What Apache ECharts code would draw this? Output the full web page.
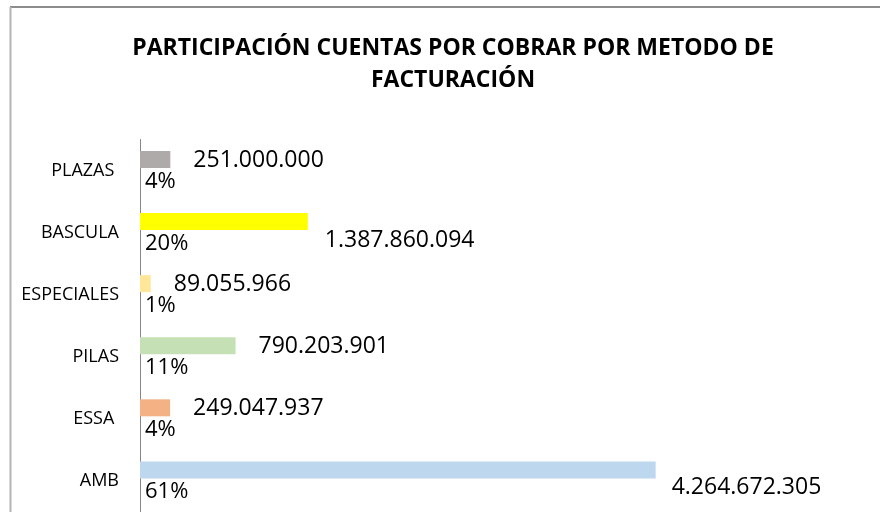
<!DOCTYPE html>
<html>
<head>
<meta charset="utf-8">
<script src="https://cdn.jsdelivr.net/npm/echarts@6/dist/echarts.min.js"></script>
<style>
  html,body{margin:0;padding:0;background:#fff;}
  #main{width:880px;height:512px;}
</style>
</head>
<body>
<div id="main"></div>
<script>
// datos (de abajo hacia arriba)
var categorias = ['AMB', 'ESSA ', 'PILAS', 'ESPECIALES', 'BASCULA', 'PLAZAS '];
var valores = [4264672305, 249047937, 790203901, 89055966, 1387860094, 251000000];
var porcentajes = [61, 4, 11, 1, 20, 4];

var colores = ['#BDD7EE', '#F4B183', '#C5E0B4', '#FFE699', '#FFFF00', '#AEAAAA'];
// etiquetas movidas a mano en el original
var desplazamiento = {'BASCULA': [-6, 19], 'AMB': [-7, 18]};

function puntos(n){
  return String(n).replace(/\B(?=(\d{3})+(?!\d))/g, '.');
}

var myChart = echarts.init(document.getElementById('main'));

var dataValores = valores.map(function(v, i){
  var item = {value: v, itemStyle: {color: colores[i]}};
  var off = desplazamiento[categorias[i].trim()];
  if (off) item.label = {offset: off};
  return item;
});

var option = {
  animation: false,
  backgroundColor: '#fff',
  textStyle: {fontFamily: 'Open Sans'},
  title: {
    text: 'PARTICIPACIÓN CUENTAS POR COBRAR POR METODO DE\nFACTURACIÓN',
    left: 448,
    top: 27,
    textAlign: 'center',
    textStyle: {fontFamily: 'Open Sans', fontWeight: 'bold', fontSize: 23, color: '#000', lineHeight: 32}
  },
  graphic: [
    {type: 'line', shape: {x1: 10, y1: 7, x2: 880, y2: 7}, style: {stroke: '#8c8c8c', lineWidth: 2}},
    {type: 'line', shape: {x1: 10.5, y1: 7, x2: 10.5, y2: 512}, style: {stroke: '#b4b4b4', lineWidth: 2}}
  ],
  grid: {left: 140, right: 0, top: 139.5, height: 378},
  xAxis: {
    type: 'value',
    min: 0,
    max: 6120000000,
    show: false
  },
  yAxis: {
    type: 'category',
    data: categorias,
    axisLine: {lineStyle: {color: '#868686', width: 1}},
    axisTick: {show: false},
    axisLabel: {color: '#000', fontSize: 18, margin: 21}
  },
  series: [
    {
      name: 'valor',
      type: 'bar',
      barWidth: 17,
      barGap: '30%',
      data: dataValores,
      label: {
        show: true,
        position: 'right',
        distance: 23,
        color: '#000',
        fontSize: 23,
        offset: [0, 1],
        formatter: function(p){ return puntos(p.value); }
      }
    },
    {
      name: 'participación',
      type: 'bar',
      barWidth: 17,
      data: porcentajes,
      itemStyle: {color: 'rgba(0,0,0,0)'},
      label: {
        show: true,
        position: 'right',
        distance: 5,
        color: '#000',
        fontSize: 22,
        formatter: '{c}%'
      }
    }
  ]
};
myChart.setOption(option);
</script>
</body>
</html>
